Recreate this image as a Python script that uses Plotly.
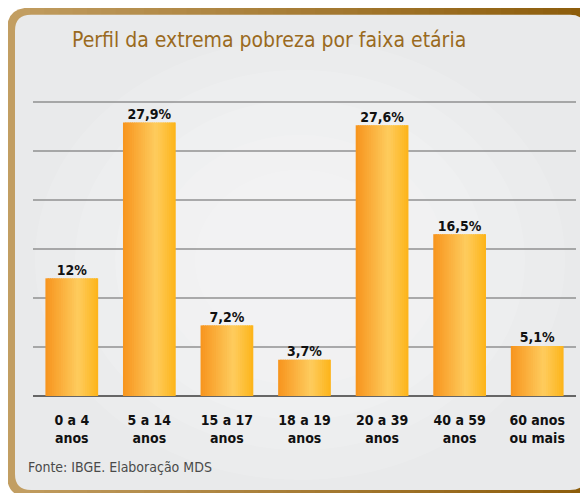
import plotly.graph_objects as go

# ---- data ----
categories = ["0 a 4<br>anos", "5 a 14<br>anos", "15 a 17<br>anos", "18 a 19<br>anos",
              "20 a 39<br>anos", "40 a 59<br>anos", "60 anos<br>ou mais"]
values = [12, 27.9, 7.2, 3.7, 27.6, 16.5, 5.1]
value_labels = ["12%", "27,9%", "7,2%", "3,7%", "27,6%", "16,5%", "5,1%"]
title_text = "Perfil da extrema pobreza por faixa etária"
source_text = "Fonte: IBGE. Elaboração MDS"

# ---- layout geometry (pixels, reference coordinates; page has 8px body margin) ----
OFF = 8
W, H = 588 - OFF, 493 - OFF
Y_TOP = 31
PLOT_L, PLOT_R = 33, 576
PLOT_B = 396
PLOT_T = PLOT_B - 294 * Y_TOP / 30
ML = PLOT_L - OFF
MR = W - (PLOT_R - OFF)
MT = PLOT_T - OFF
MB = H - (PLOT_B - OFF)
PW, PH = W - ML - MR, H - MT - MB
FONT = "DejaVu Sans Condensed, Liberation Sans Narrow, Roboto Condensed, Roboto, sans-serif"


def px(x):
    return (x - PLOT_L) / (PLOT_R - PLOT_L)


def py(y):
    return (PLOT_B - y) / (PLOT_B - PLOT_T)


def lerp(c1, c2, t):
    return tuple(round(a + (b - a) * t) for a, b in zip(c1, c2))


def rgb(c):
    return "rgb(%d,%d,%d)" % c


def rounded_path(x0, y0, x1, y1, r):
    X0, X1 = px(x0), px(x1)
    Y0, Y1 = py(y0), py(y1)
    rx, ry = r / PW, r / PH
    return (f"M {X0+rx},{Y0} L {X1-rx},{Y0} Q {X1},{Y0} {X1},{Y0-ry} "
            f"L {X1},{Y1+ry} Q {X1},{Y1} {X1-rx},{Y1} "
            f"L {X0+rx},{Y1} Q {X0},{Y1} {X0},{Y1+ry} "
            f"L {X0},{Y0-ry} Q {X0},{Y0} {X0+rx},{Y0} Z")


fig = go.Figure()

# ---- gradient bars via thin overlaid slices ----
bar_w = 0.68
n_slices = 24
c_left = (247, 148, 29)
c_mid = (254, 204, 94)
c_right = (253, 180, 24)
sw = bar_w / n_slices
for i in range(n_slices):
    t = (i + 0.5) / n_slices
    if t < 0.62:
        col = lerp(c_left, c_mid, t / 0.62)
    else:
        col = lerp(c_mid, c_right, (t - 0.62) / 0.38)
    fig.add_trace(go.Bar(
        x=categories, y=values,
        width=sw * 1.6 if i < n_slices - 1 else sw,
        offset=-bar_w / 2 + i * sw,
        marker=dict(color=rgb(col), line=dict(width=0)),
        hoverinfo="skip", showlegend=False,
    ))

# ---- value labels ----
fig.add_trace(go.Scatter(
    x=categories, y=values, mode="text",
    text=value_labels, textposition="top center",
    textfont=dict(family=FONT, size=14, color="#111111", weight="bold"),
    cliponaxis=False, showlegend=False, hoverinfo="skip",
))

# ---- decorative frame ----
shapes = []
shapes.append(dict(type="path", xref="paper", yref="paper", layer="below",
                   path=rounded_path(7, 8, 600, 497, 22),
                   fillcolor=rgb((194, 158, 98)), line=dict(width=0)))
n_strips = 40
left_c, right_c = (194, 158, 98), (140, 92, 10)
x_start, x_end = 30, 600
step = (x_end - x_start) / n_strips
for i in range(n_strips):
    t = (x_start + (i + 0.5) * step) / 588
    shapes.append(dict(type="rect", xref="paper", yref="paper", layer="below",
                       x0=px(x_start + i * step), x1=px(x_start + (i + 1) * step + 0.6),
                       y0=py(8), y1=py(497),
                       fillcolor=rgb(lerp(left_c, right_c, min(t, 1))), line=dict(width=0)))
shapes.append(dict(type="path", xref="paper", yref="paper", layer="below",
                   path=rounded_path(15, 15, 586, 490, 16),
                   fillcolor="#E9EAEB", line=dict(width=0)))
for rx, ry in [(265, 220), (225, 190), (185, 160), (145, 125), (105, 90)]:
    cx, cy = 300, 260
    shapes.append(dict(type="circle", xref="paper", yref="paper", layer="below",
                       x0=px(cx - rx), x1=px(cx + rx), y0=py(cy + ry), y1=py(cy - ry),
                       fillcolor="rgba(255,255,255,0.12)", line=dict(width=0)))

annotations = [
    dict(text=title_text, xref="paper", yref="paper", x=px(269), y=py(40),
         xanchor="center", yanchor="middle", showarrow=False,
         font=dict(family=FONT, size=21, color="#9A6A1E")),
    dict(text=source_text, xref="paper", yref="paper", x=px(26), y=py(467),
         xanchor="left", yanchor="middle", showarrow=False,
         font=dict(family=FONT, size=14, color="#4A4A4A")),
]

fig.update_layout(
    width=W, height=H,
    margin=dict(l=ML, r=MR, t=MT, b=MB, pad=0),
    paper_bgcolor="white", plot_bgcolor="rgba(0,0,0,0)",
    barmode="overlay", showlegend=False,
    shapes=shapes, annotations=annotations,
    xaxis=dict(type="category", showgrid=False, showline=False, ticks="",
               tickfont=dict(family=FONT, size=14, color="#111111", weight="bold"),
               ticklabelstandoff=14, fixedrange=True),
    yaxis=dict(range=[0, Y_TOP], dtick=5, showticklabels=False, ticks="",
               showgrid=True, gridcolor="rgba(130,130,130,0.65)", gridwidth=1.5,
               zeroline=True, zerolinecolor="#666666", zerolinewidth=1.5,
               showline=False, fixedrange=True),
)

fig.write_html("out.html")
